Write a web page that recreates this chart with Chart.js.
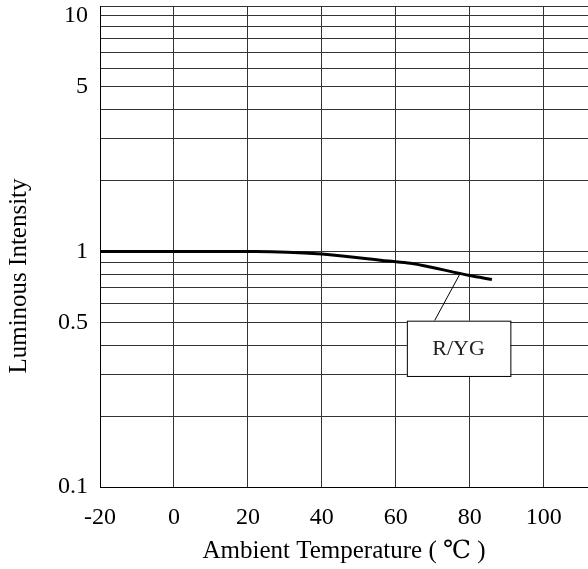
<!DOCTYPE html>
<html>
<head>
<meta charset="utf-8">
<script src="https://cdn.jsdelivr.net/npm/chart.js@4/dist/chart.umd.min.js"></script>
<style>
  html, body { margin: 0; padding: 0; background: #fff; }
  #wrap { width: 588px; height: 569px; }
</style>
</head>
<body>
<div id="wrap"><canvas id="chart" width="588" height="569"></canvas></div>
<script>
// Data
let temps = [-20, 0, 22, 40, 58, 64, 80, 86];
let intensity = [1.0, 1.0, 1.0, 0.975, 0.91, 0.89, 0.79, 0.76];
let xTicks = [-20, 0, 20, 40, 60, 80, 100];
let yGrid = [0.1, 0.2, 0.3, 0.4, 0.5, 0.6, 0.7, 0.8, 0.9, 1, 2, 3, 4, 5, 6, 7, 8, 9, 10, 11];
let yLabels = [0.1, 0.5, 1, 5, 10];
let seriesName = "R/YG";

const serif = "'Liberation Serif', 'DejaVu Serif', serif";

// Axis titles + label box
const extras = {
    id: "extras",
    afterDraw(chart) {
        let ctx = chart.ctx;
        let area = chart.chartArea;
        let x = chart.scales.x, y = chart.scales.y;
        ctx.save();
        ctx.fillStyle = "#000";
        ctx.font = "25px " + serif;
        ctx.textAlign = "center";
        ctx.textBaseline = "middle";
        ctx.fillText("Ambient Temperature ( \u2103 )", (area.left + area.right) / 2, 551);

        ctx.save();
        ctx.translate(19, 276);
        ctx.rotate(-Math.PI / 2);
        ctx.fillText("Luminous Intensity", 0, 0);
        ctx.restore();

        // label box
        let bx0 = x.getPixelForValue(63), bx1 = x.getPixelForValue(91);
        let by0 = y.getPixelForValue(0.508), by1 = y.getPixelForValue(0.296);
        ctx.strokeStyle = "#000";
        ctx.lineWidth = 1;
        ctx.beginPath();
        ctx.moveTo(x.getPixelForValue(70.5), by0);
        ctx.lineTo(x.getPixelForValue(77.5), y.getPixelForValue(0.81));
        ctx.stroke();
        ctx.fillStyle = "#fff";
        ctx.fillRect(bx0, by0, bx1 - bx0, by1 - by0);
        ctx.strokeRect(bx0 + 0.5, by0 + 0.5, bx1 - bx0, by1 - by0);
        ctx.fillStyle = "#222";
        ctx.font = "22px " + serif;
        ctx.fillText(seriesName, (bx0 + bx1) / 2, (by0 + by1) / 2 + 1);
        ctx.restore();
    }
};

let chart = new Chart(document.getElementById("chart").getContext("2d"), {
    type: "line",
    data: {
        datasets: [{
            label: seriesName,
            data: temps.map((t, i) => ({ x: t, y: intensity[i] })),
            borderColor: "#000",
            borderWidth: 3,
            pointRadius: 0,
            cubicInterpolationMode: "monotone",
            fill: false
        }]
    },
    options: {
        responsive: false,
        animation: false,
        devicePixelRatio: 1,
        layout: { padding: { top: 6, right: 0, left: 0, bottom: 0 } },
        plugins: {
            legend: { display: false },
            tooltip: { enabled: false }
        },
        scales: {
            x: {
                type: "linear",
                min: -20,
                max: 112,
                afterBuildTicks: s => { s.ticks = xTicks.map(v => ({ value: v })); },
                afterFit: s => { s.height = 82; s.paddingLeft = 0; s.paddingRight = 0; },
                grid: { color: "#333", lineWidth: 1, drawTicks: false },
                border: { color: "#000", width: 1 },
                ticks: {
                    color: "#000",
                    padding: 16,
                    maxRotation: 0,
                    font: { family: serif, size: 24 },
                    callback: v => String(v)
                }
            },
            y: {
                type: "logarithmic",
                min: 0.1,
                max: 11,
                afterBuildTicks: s => { s.ticks = yGrid.map(v => ({ value: v })); },
                afterFit: s => { s.width = 100; s.paddingTop = 0; s.paddingBottom = 0; },
                grid: { color: "#333", lineWidth: 1, drawTicks: false },
                border: { color: "#000", width: 1 },
                ticks: {
                    color: "#000",
                    padding: 12,
                    autoSkip: false,
                    font: { family: serif, size: 24 },
                    callback: v => yLabels.includes(v) ? String(v) : ""
                }
            }
        }
    },
    plugins: [extras]
});
</script>
</body>
</html>
